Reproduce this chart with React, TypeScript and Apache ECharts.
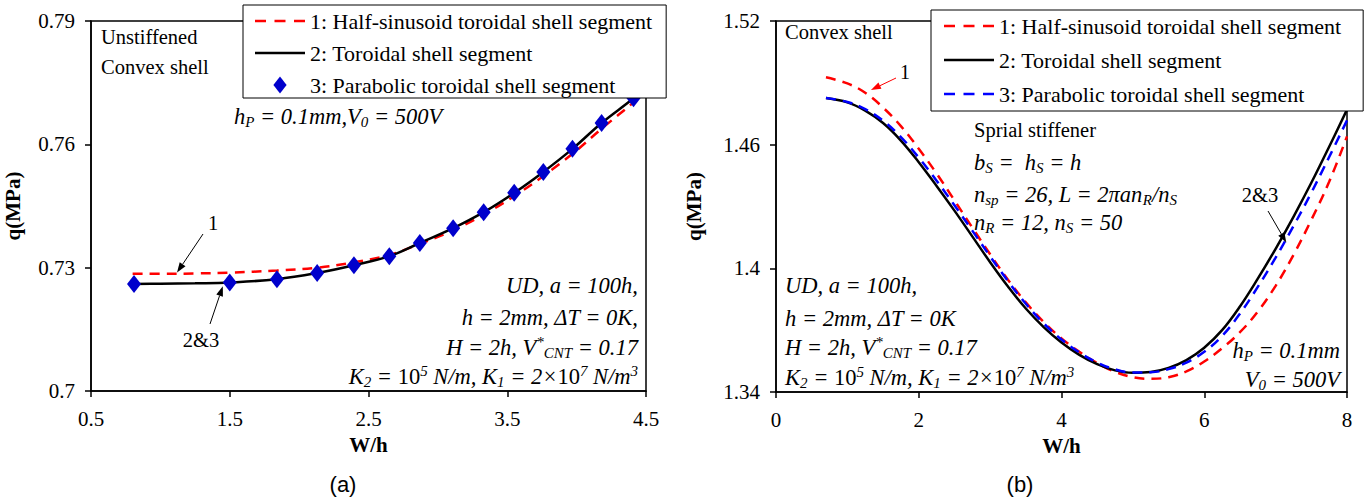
import React, { useEffect, useRef } from 'react';
import * as echarts from 'echarts';

const SERIF = '"Liberation Serif", "Times New Roman", serif';
const SANS = '"Liberation Sans", Arial, sans-serif';

// ---------- Panel (a): unstiffened convex shell ----------
const aXTicks = [0.5, 1.5, 2.5, 3.5, 4.5];
const aYTicks = [0.7, 0.73, 0.76, 0.79];
const aLineX = [0.8, 1.0, 1.25, 1.5, 1.84, 2.13, 2.395, 2.65, 2.87, 3.11, 3.33, 3.55, 3.76, 3.97, 4.18, 4.41, 4.5];
const aHalfSin = [0.7285, 0.7285, 0.7286, 0.7288, 0.7293, 0.73, 0.7313, 0.7331, 0.7358, 0.7391, 0.7429, 0.7474, 0.7523, 0.7577, 0.7638, 0.7702, 0.773];
const aToroidal = [0.726, 0.7261, 0.7262, 0.7264, 0.7272, 0.7287, 0.7306, 0.7328, 0.736, 0.7396, 0.7435, 0.7482, 0.7533, 0.7589, 0.7652, 0.7712, 0.774];
const aParabX = [0.81, 1.5, 1.84, 2.13, 2.395, 2.65, 2.87, 3.11, 3.33, 3.55, 3.76, 3.97, 4.18, 4.41];
const aParab = [0.726, 0.7264, 0.7272, 0.7287, 0.7306, 0.7328, 0.736, 0.7396, 0.7435, 0.7482, 0.7533, 0.7589, 0.7652, 0.7712];

// ---------- Panel (b): spiral stiffened convex shell ----------
const bXTicks = [0, 2, 4, 6, 8];
const bYTicks = [1.34, 1.4, 1.46, 1.52];
const bX = [0.7, 1.0, 1.25, 1.5, 1.75, 2.0, 2.25, 2.5, 2.75, 3.0, 3.25, 3.5, 3.75, 4.0, 4.25, 4.5, 4.75, 5.0, 5.25, 5.5, 5.75, 6.0, 6.25, 6.5, 6.75, 7.0, 7.25, 7.5, 7.75, 8.0];
const bHalfSin = [1.4927, 1.4897, 1.4852, 1.478, 1.469, 1.458, 1.446, 1.433, 1.4198, 1.4068, 1.3945, 1.3835, 1.374, 1.366, 1.3595, 1.354, 1.3498, 1.3472, 1.3464, 1.3472, 1.35, 1.3548, 1.3612, 1.369, 1.379, 1.3915, 1.4065, 1.4235, 1.442, 1.464];
const bToroidal = [1.4826, 1.4805, 1.4765, 1.4705, 1.462, 1.4515, 1.44, 1.428, 1.4155, 1.403, 1.3912, 1.3805, 1.3715, 1.364, 1.358, 1.3535, 1.3505, 1.3493, 1.3497, 1.3517, 1.3555, 1.3615, 1.37, 1.3815, 1.395, 1.4095, 1.425, 1.4415, 1.459, 1.477];
const bParab = [1.4826, 1.4807, 1.4772, 1.4716, 1.4637, 1.4537, 1.4425, 1.4306, 1.4183, 1.4058, 1.3938, 1.3828, 1.3733, 1.3655, 1.3592, 1.3543, 1.351, 1.3495, 1.3496, 1.3511, 1.3543, 1.3595, 1.3672, 1.378, 1.391, 1.4052, 1.4205, 1.4367, 1.454, 1.4718];

const legendNames = [
  '1: Half-sinusoid toroidal shell segment',
  '2: Toroidal shell segment',
  '3: Parabolic toroidal shell segment',
];

const ICON_DASH = 'path://M0,0h11v2.5h-11zM19.5,0h11v2.5h-11zM39,0h11v2.5h-11z';
const ICON_SOLID = 'path://M0,0h50v2.5h-50z';
const ICON_DIAMOND = 'path://M7,0L14,9L7,18L0,9Z';

const zip = (xs: number[], ys: number[]) => xs.map((x, i) => [x, ys[i]]);

const rich: any = {
  i: { fontStyle: 'italic', fontSize: 22.5, fontFamily: SERIF, fill: '#000', lineHeight: 26 },
  r: { fontSize: 20.5, fontFamily: SERIF, fill: '#000', lineHeight: 26 },
  ri: { fontSize: 22.5, fontFamily: SERIF, fill: '#000', lineHeight: 26 },
  sub: { fontStyle: 'italic', fontSize: 15, fontFamily: SERIF, fill: '#000', verticalAlign: 'bottom' },
  sup: { fontStyle: 'italic', fontSize: 15, fontFamily: SERIF, fill: '#000', verticalAlign: 'top' },
};

function txt(text: string, x: number, y: number, align: string = 'left') {
  return {
    type: 'text',
    x,
    y,
    z: 10,
    style: {
      text,
      rich,
      fill: '#000',
      font: `20px ${SERIF}`,
      align,
      textAlign: align,
      verticalAlign: 'middle',
      textVerticalAlign: 'middle',
    },
  };
}

function arrow(p0: number[], p1: number[], color: string) {
  const dx = p1[0] - p0[0];
  const dy = p1[1] - p0[1];
  const L = Math.hypot(dx, dy);
  const ux = dx / L;
  const uy = dy / L;
  const hl = 10;
  const hw = 3.5;
  const bx = p1[0] - ux * hl;
  const by = p1[1] - uy * hl;
  return [
    { type: 'line', z: 10, shape: { x1: p0[0], y1: p0[1], x2: bx, y2: by }, style: { stroke: color, lineWidth: 1 } },
    {
      type: 'polygon',
      z: 10,
      shape: { points: [[p1[0], p1[1]], [bx - uy * hw, by + ux * hw], [bx + uy * hw, by - ux * hw]] },
      style: { fill: color },
    },
  ];
}

function makeXAxis(gridIndex: number, min: number, max: number, ticks: number[]) {
  return {
    type: 'value',
    gridIndex,
    min,
    max,
    name: 'W/h',
    nameLocation: 'middle',
    nameGap: 43,
    nameTextStyle: { fontFamily: SERIF, fontWeight: 'bold', fontSize: 21, color: '#000' },
    axisLine: { show: true, onZero: false, lineStyle: { color: '#000', width: 1.5 } },
    axisTick: { show: true, length: 6, customValues: ticks, lineStyle: { color: '#000', width: 1.5 } },
    axisLabel: { customValues: ticks, margin: 17, fontFamily: SERIF, fontSize: 21, color: '#000' },
    splitLine: { show: false },
  };
}

function makeYAxis(gridIndex: number, min: number, max: number, ticks: number[], nameGap: number) {
  return {
    type: 'value',
    gridIndex,
    min,
    max,
    name: 'q(MPa)',
    nameLocation: 'middle',
    nameGap,
    nameTextStyle: { fontFamily: SERIF, fontWeight: 'bold', fontSize: 21, color: '#000' },
    axisLine: { show: true, onZero: false, lineStyle: { color: '#000', width: 1.5 } },
    axisTick: { show: true, length: 6, customValues: ticks, lineStyle: { color: '#000', width: 1.5 } },
    axisLabel: { customValues: ticks, margin: 16, fontFamily: SERIF, fontSize: 21, color: '#000' },
    splitLine: { show: false },
  };
}

export default function App() {
  const ref = useRef<HTMLDivElement>(null);

  useEffect(() => {
    if (!ref.current) return;
    const chart = echarts.init(ref.current, undefined, { renderer: 'svg' });

    const legendBase = {
      orient: 'vertical',
      itemWidth: 50,
      itemHeight: 17,
      symbolKeepAspect: true,
      backgroundColor: '#fff',
      borderColor: '#000',
      borderWidth: 1,
      borderRadius: 0,
      selectedMode: false,
      textStyle: { fontFamily: SERIF, fontSize: 22, color: '#000', lineHeight: 21 },
      z: 20,
    };

    const option: any = {
      animation: false,
      backgroundColor: '#fff',
      grid: [
        { left: 91, top: 21, width: 555, height: 370, show: true, borderColor: '#000', borderWidth: 1.5, backgroundColor: 'transparent' },
        { left: 776, top: 21, width: 571, height: 371, show: true, borderColor: '#000', borderWidth: 1.5, backgroundColor: 'transparent' },
      ],
      xAxis: [makeXAxis(0, 0.5, 4.5, aXTicks), makeXAxis(1, 0, 8, bXTicks)],
      yAxis: [makeYAxis(0, 0.7, 0.79, aYTicks, 68), makeYAxis(1, 1.34, 1.52, bYTicks, 72)],
      legend: [
        {
          ...legendBase,
          left: 243,
          top: 5,
          padding: [5, 14, 2, 12],
          itemGap: 10,
          data: [
            { name: 'a1', icon: ICON_DASH },
            { name: 'a2', icon: ICON_SOLID },
            { name: 'a3', icon: ICON_DIAMOND },
          ],
          formatter: (n: string) => legendNames[Number(n.slice(1)) - 1],
        },
        {
          ...legendBase,
          left: 931,
          top: 10,
          padding: [5, 22, 6, 13],
          itemGap: 12,
          data: [
            { name: 'b1', icon: ICON_DASH },
            { name: 'b2', icon: ICON_SOLID },
            { name: 'b3', icon: ICON_DASH },
          ],
          formatter: (n: string) => legendNames[Number(n.slice(1)) - 1],
        },
      ],
      series: [
        {
          name: 'a1', type: 'line', xAxisIndex: 0, yAxisIndex: 0, data: zip(aLineX, aHalfSin),
          smooth: 0.4, symbol: 'none', z: 3,
          lineStyle: { color: '#ff0000', width: 2.5, type: [10, 7] }, itemStyle: { color: '#ff0000' },
        },
        {
          name: 'a2', type: 'line', xAxisIndex: 0, yAxisIndex: 0, data: zip(aLineX, aToroidal),
          smooth: 0.4, symbol: 'none', z: 4,
          lineStyle: { color: '#000', width: 2.5 }, itemStyle: { color: '#000' },
        },
        {
          name: 'a3', type: 'scatter', xAxisIndex: 0, yAxisIndex: 0, data: zip(aParabX, aParab),
          symbol: 'diamond', symbolSize: [14, 18], z: 5,
          itemStyle: { color: '#0000cc', opacity: 1 },
        },
        {
          name: 'b1', type: 'line', xAxisIndex: 1, yAxisIndex: 1, data: zip(bX, bHalfSin),
          smooth: 0.4, symbol: 'none', z: 3,
          lineStyle: { color: '#ff0000', width: 2.5, type: [10, 7] }, itemStyle: { color: '#ff0000' },
        },
        {
          name: 'b2', type: 'line', xAxisIndex: 1, yAxisIndex: 1, data: zip(bX, bToroidal),
          smooth: 0.4, symbol: 'none', z: 4,
          lineStyle: { color: '#000', width: 2.5 }, itemStyle: { color: '#000' },
        },
        {
          name: 'b3', type: 'line', xAxisIndex: 1, yAxisIndex: 1, data: zip(bX, bParab),
          smooth: 0.4, symbol: 'none', z: 5,
          lineStyle: { color: '#0000ff', width: 2.5, type: [10, 7] }, itemStyle: { color: '#0000ff' },
        },
      ],
    };

    chart.setOption(option);

    const pa = (p: number[]) => chart.convertToPixel({ gridIndex: 0 }, p) as number[];
    const pb = (p: number[]) => chart.convertToPixel({ gridIndex: 1 }, p) as number[];

    const kLine = '{i|K}{sub|2}{i| = }{ri|10}{sup|5}{i| N/m, K}{sub|1}{i| = 2×}{ri|10}{sup|7}{i| N/m}{sup|3}';
    const vLine = '{i|H = 2h, V}{sup|*}{sub|CNT}{i| = 0.17}';

    const graphics: any[] = [
      // panel (a)
      txt('{r|Unstiffened}', 101, 37),
      txt('{r|Convex shell}', 101, 67),
      txt('{i|h}{sub|P}{i| = 0.1mm,V}{sub|0}{i| = 500V}', 234, 116),
      txt('{i|UD, a = 100h,}', 638, 285, 'right'),
      txt('{i|h = 2mm, ΔT = 0K,}', 638, 317, 'right'),
      txt(vLine, 638, 347, 'right'),
      txt(kLine, 638, 376, 'right'),
      txt('{r|1}', 213, 223, 'center'),
      ...arrow([203, 234], pa([1.12, 0.7288]), '#000'),
      txt('{r|2&3}', 201, 340, 'center'),
      ...arrow([210, 324], pa([1.45, 0.7255]), '#000'),
      { type: 'text', x: 343, y: 484, z: 10, style: { text: '(a)', fill: '#000', font: `22px ${SANS}`, align: 'center', verticalAlign: 'middle', textAlign: 'center', textVerticalAlign: 'middle' } },
      // panel (b)
      txt('{r|Convex shell}', 785, 32),
      txt('{r|Sprial stiffener}', 974, 130),
      txt('{i|b}{sub|S}{i| =  h}{sub|S}{i| = h}', 974, 162),
      txt('{i|n}{sub|sp}{i| = 26, L = 2πan}{sub|R}{i|/n}{sub|S}', 974, 194),
      txt('{i|n}{sub|R}{i| = 12, n}{sub|S}{i| = 50}', 974, 222),
      txt('{i|UD, a = 100h,}', 785, 285),
      txt('{i|h = 2mm, ΔT = 0K}', 785, 318),
      txt(vLine, 785, 347),
      txt(kLine, 785, 377),
      txt('{i|h}{sub|P}{i| = 0.1mm}', 1340, 350, 'right'),
      txt('{i|V}{sub|0}{i| = 500V}', 1340, 379, 'right'),
      { type: 'text', x: 905, y: 72, z: 10, style: { text: '1', fill: '#000', font: `20px ${SERIF}`, align: 'center', verticalAlign: 'middle', textAlign: 'center', textVerticalAlign: 'middle' } },
      ...arrow([896, 78], pb([1.33, 1.4865]), '#ff0000'),
      txt('{r|2&3}', 1260, 195, 'center'),
      ...arrow([1268, 211], pb([7.15, 1.4125]), '#000'),
      { type: 'text', x: 1020, y: 484, z: 10, style: { text: '(b)', fill: '#000', font: `22px ${SANS}`, align: 'center', verticalAlign: 'middle', textAlign: 'center', textVerticalAlign: 'middle' } },
    ];

    chart.setOption({ graphic: graphics });

    return () => chart.dispose();
  }, []);

  return <div ref={ref} style={{ position: 'fixed', left: 0, top: 0, width: 1370, height: 504 }} />;
}
